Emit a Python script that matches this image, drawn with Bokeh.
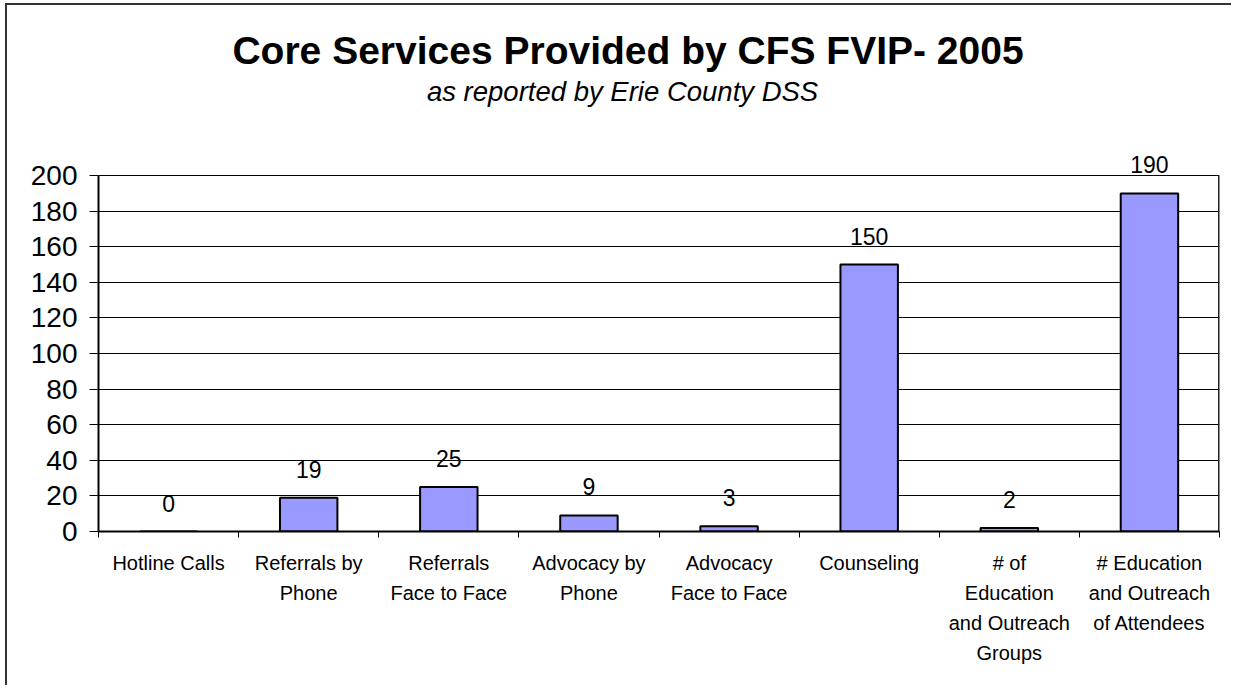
from bokeh.plotting import figure
from bokeh.models import Range1d, FixedTicker, ColumnDataSource, LabelSet, Label
from bokeh.core.properties import value
from bokeh.embed import file_html
from bokeh.resources import INLINE

# ---- data ----
categories = ["Hotline Calls", "Referrals by Phone", "Referrals Face to Face",
              "Advocacy by Phone", "Advocacy Face to Face", "Counseling",
              "# of Education and Outreach Groups",
              "# Education and Outreach of Attendees"]
tick_labels = ["Hotline Calls", "Referrals by\nPhone", "Referrals\nFace to Face",
               "Advocacy by\nPhone", "Advocacy\nFace to Face", "Counseling",
               "# of\nEducation\nand Outreach\nGroups",
               "# Education\nand Outreach\nof Attendees"]
values = [0, 19, 25, 9, 3, 150, 2, 190]
y_ticks = [0, 20, 40, 60, 80, 100, 120, 140, 160, 180, 200]
y_max = 200
title_text = "Core Services Provided by CFS FVIP- 2005"
subtitle_text = "as reported by Erie County DSS"

FONT = "Liberation Sans"
n = len(categories)
x_pos = [i + 0.5 for i in range(n)]
bounds = list(range(n + 1))

src = ColumnDataSource(dict(x=x_pos, top=values, lab=[str(v) for v in values], cat=categories))

# extra headroom above the value axis holds the titles and the top value label
p = figure(width=1226, height=682, x_range=Range1d(0, n), y_range=Range1d(0, 290),
           output_backend="svg", toolbar_location=None, title_location=None,
           min_border_left=91, min_border_right=14, min_border_top=10, min_border_bottom=156)
p.styles = {"margin-left": "7px", "margin-top": "5px", "overflow": "hidden",
            "box-shadow": "-2px -2px 0px 0px #333333"}
p.background_fill_color = "white"
p.border_fill_color = "white"
p.outline_line_color = None

p.vbar(x="x", top="top", width=0.41, bottom=0, source=src,
       fill_color="#9999FF", line_color="black", line_width=2)

# right edge of the plot area (value range only)
p.segment(x0=[n], y0=[0], x1=[n], y1=[y_max], line_color="#222222", line_width=3)

# grid
p.xgrid.visible = False
p.ygrid.ticker = FixedTicker(ticks=y_ticks)
p.ygrid.grid_line_color = "black"
p.ygrid.grid_line_width = 1

# y axis
p.yaxis.ticker = FixedTicker(ticks=y_ticks)
p.yaxis.bounds = (0, y_max)
p.yaxis.major_tick_out = 9
p.yaxis.major_tick_in = 0
p.yaxis.minor_tick_line_color = None
p.yaxis.axis_line_width = 2
p.yaxis.axis_line_color = "black"
p.yaxis.major_tick_line_color = "black"
p.yaxis.major_label_text_font = FONT
p.yaxis.major_label_text_font_size = "28px"
p.yaxis.major_label_text_color = "black"
p.yaxis.major_label_standoff = 12

# x axis
p.xaxis.ticker = FixedTicker(ticks=x_pos, minor_ticks=bounds)
p.xaxis.major_label_overrides = {x: t for x, t in zip(x_pos, tick_labels)}
p.xaxis.major_tick_line_color = None
p.xaxis.minor_tick_out = 6
p.xaxis.minor_tick_in = 0
p.xaxis.minor_tick_line_color = "black"
p.xaxis.minor_tick_line_width = 1
p.xaxis.axis_line_width = 2
p.xaxis.axis_line_color = "black"
p.xaxis.major_label_text_font = FONT
p.xaxis.major_label_text_font_size = "20px"
p.xaxis.major_label_text_color = "black"
p.xaxis.major_label_text_line_height = 1.37
p.xaxis.major_label_standoff = 14
p.xaxis.major_label_orientation = "horizontal"

# value labels
p.add_layout(LabelSet(x="x", y="top", text="lab", source=src, text_align="center",
                      text_baseline="alphabetic", y_offset=20, text_font=value(FONT),
                      text_font_size="23px", text_color="black"))

# titles
p.add_layout(Label(x=3.779, y=270.2, text=title_text, text_align="center",
                   text_baseline="alphabetic", text_font=FONT,
                   text_font_size="39px", text_font_style="bold", text_color="black"))
p.add_layout(Label(x=3.74, y=247.3, text=subtitle_text, text_align="center",
                   text_baseline="alphabetic", text_font=FONT,
                   text_font_size="27.5px", text_font_style="italic", text_color="black"))

open("out.html", "w").write(file_html(p, INLINE))
